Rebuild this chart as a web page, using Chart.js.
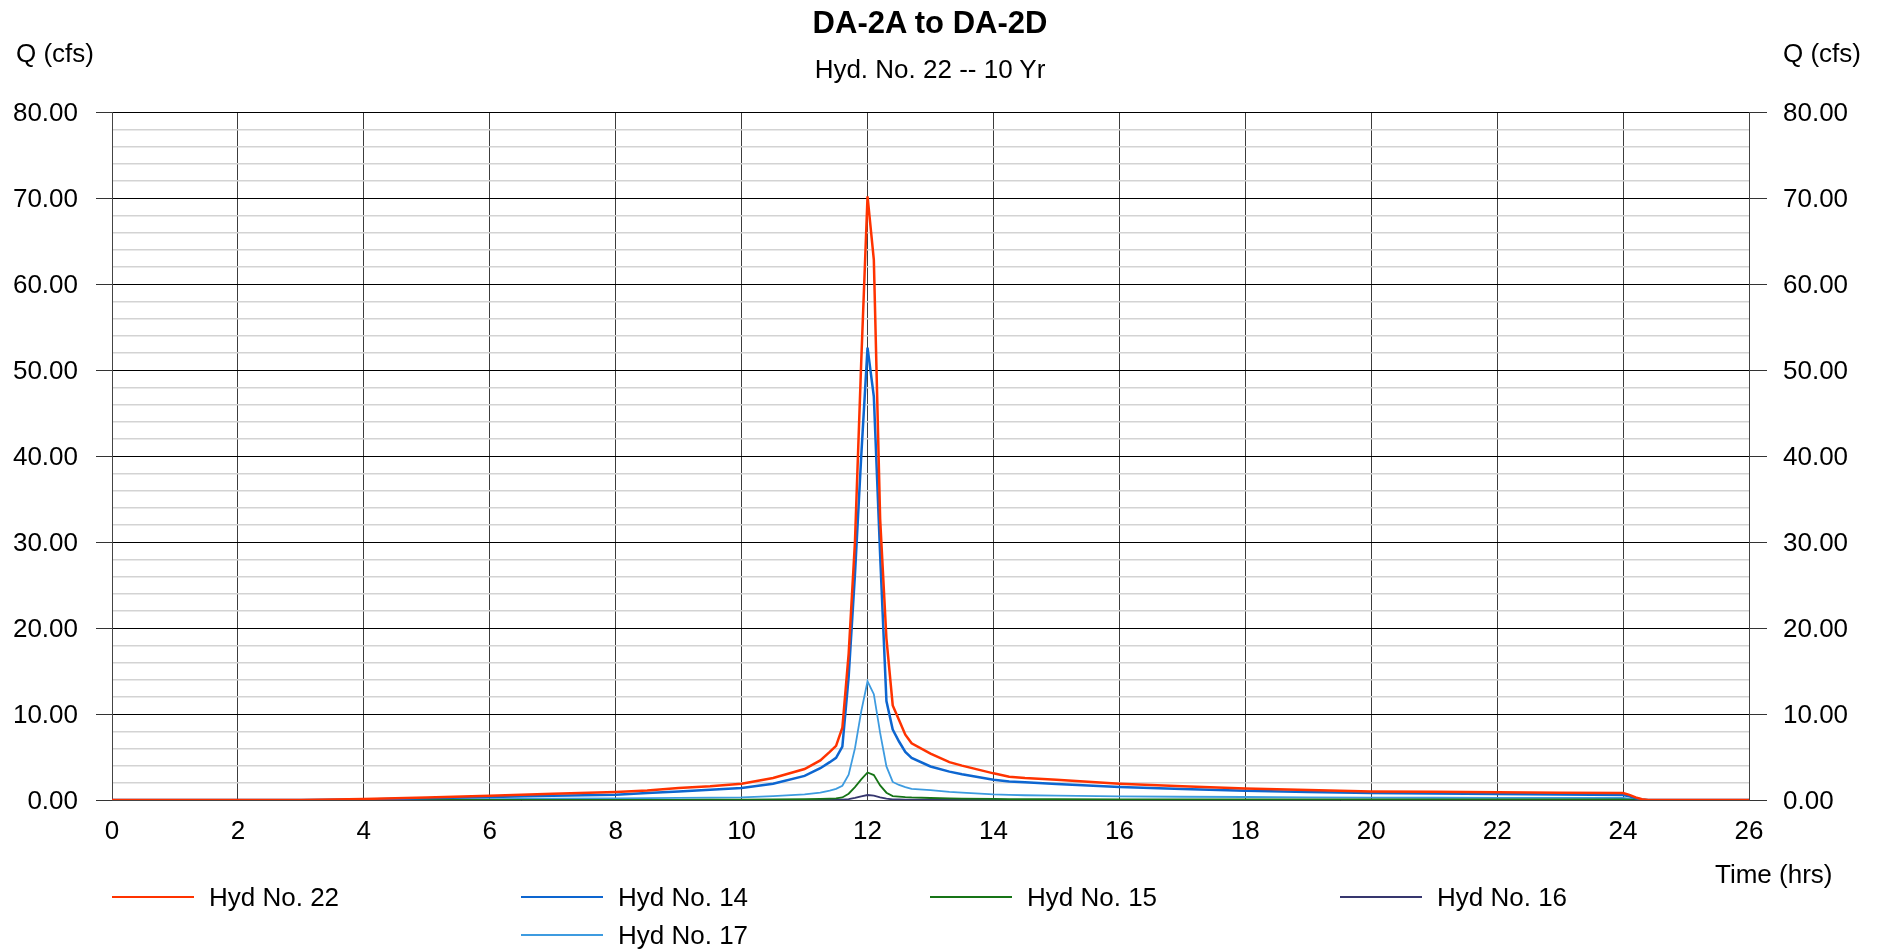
<!DOCTYPE html>
<html>
<head>
<meta charset="utf-8">
<title>DA-2A to DA-2D</title>
<script src="https://cdn.jsdelivr.net/npm/chart.js@4.4.1/dist/chart.umd.min.js"></script>
<style>
  body { margin: 0; background: #fff; }
  #wrap { position: relative; width: 1885px; height: 950px; font-family: "Liberation Sans", Arial, sans-serif; color: #000; }
  #chart { position: absolute; left: 0; top: 0; }
  .txt { position: absolute; line-height: 1; white-space: nowrap; font-size: 26px; }
  .center { transform: translateX(-50%); }
  .leg-line { position: absolute; width: 82px; height: 2px; }
</style>
</head>
<body>
<div id="wrap">
  <canvas id="chart" width="1885" height="950"></canvas>
  <div class="txt center" style="left:930px; top:7px; font-size:31px; font-weight:bold;">DA-2A to DA-2D</div>
  <div class="txt center" style="left:930px; top:56px;">Hyd. No. 22 -- 10 Yr</div>
  <div class="txt" style="left:16px; top:40px;">Q (cfs)</div>
  <div class="txt" style="left:1783px; top:40px;">Q (cfs)</div>
  <div class="txt" style="left:1715px; top:861px;">Time (hrs)</div>
  <div id="legend"></div>
</div>
<script>
//********************* data *********************
// time (hrs) shared by every hydrograph
const times = [0, 1, 2, 3, 3.5, 4, 5, 6, 7, 8, 8.5, 9, 9.5, 10, 10.5, 11, 11.25, 11.4, 11.5,
  11.6, 11.7, 11.8, 11.9, 12, 12.1, 12.2, 12.3, 12.4, 12.5, 12.6, 12.7, 13, 13.3, 13.5, 14, 14.25, 14.5, 15,
  16, 17, 18, 19, 20, 21, 22, 23, 24, 24.1, 24.2, 24.3, 24.4, 26];
// Q (cfs) for each hydrograph
const hyd22 = [0, 0, 0, 0, 0.05, 0.12, 0.3, 0.5, 0.72, 0.93, 1.1, 1.4, 1.6, 1.9, 2.55, 3.6, 4.6, 5.6, 6.3,
  8.4, 17.0, 30.0, 51.0, 70.2, 62.8, 32.7, 18.8, 11.0, 9.3, 7.6, 6.6, 5.4, 4.4, 4.0, 3.1, 2.7, 2.55, 2.35,
  1.9, 1.6, 1.35, 1.16, 1.0, 0.95, 0.9, 0.85, 0.81, 0.6, 0.3, 0.08, 0, 0];
const hyd14 = [0, 0, 0, 0, 0.02, 0.05, 0.2, 0.35, 0.5, 0.62, 0.8, 1.0, 1.2, 1.4, 1.9, 2.8, 3.7, 4.4, 4.9,
  6.2, 14.3, 26.2, 40.0, 52.6, 46.9, 28.5, 11.5, 8.2, 6.8, 5.6, 4.9, 3.9, 3.3, 3.0, 2.35, 2.15, 2.05, 1.86,
  1.51, 1.28, 1.08, 0.93, 0.81, 0.75, 0.7, 0.64, 0.58, 0.42, 0.2, 0.05, 0, 0];
const hyd15 = [0, 0, 0, 0, 0, 0, 0, 0, 0, 0, 0.01, 0.02, 0.03, 0.04, 0.06, 0.1, 0.13, 0.17, 0.2,
  0.3, 0.73, 1.5, 2.4, 3.2, 2.9, 1.7, 0.85, 0.46, 0.4, 0.34, 0.3, 0.23, 0.18, 0.16, 0.12, 0.11, 0.11, 0.1,
  0.08, 0.08, 0.07, 0.07, 0.07, 0.07, 0.06, 0.06, 0.06, 0.04, 0.02, 0.01, 0, 0];
const hyd16 = [0, 0, 0, 0, 0, 0, 0, 0, 0, 0, 0, 0, 0, 0, 0.01, 0.01, 0.02, 0.02, 0.03,
  0.05, 0.1, 0.25, 0.42, 0.58, 0.5, 0.3, 0.15, 0.07, 0.06, 0.05, 0.05, 0.04, 0.03, 0.03, 0.03, 0.02, 0.02, 0.02,
  0.02, 0.02, 0.02, 0.02, 0.02, 0.02, 0.02, 0.02, 0.02, 0.01, 0.01, 0, 0, 0];
const hyd17 = [0, 0, 0, 0, 0, 0, 0.05, 0.1, 0.15, 0.2, 0.22, 0.25, 0.28, 0.3, 0.45, 0.65, 0.85, 1.1, 1.3,
  1.66, 2.94, 6.0, 10.3, 13.8, 12.3, 7.8, 3.9, 2.1, 1.75, 1.5, 1.3, 1.15, 0.95, 0.85, 0.65, 0.6, 0.55, 0.5,
  0.42, 0.38, 0.35, 0.3, 0.27, 0.26, 0.25, 0.24, 0.23, 0.15, 0.07, 0.02, 0, 0];

const seriesNames = ['Hyd No. 22', 'Hyd No. 14', 'Hyd No. 15', 'Hyd No. 16', 'Hyd No. 17'];
const seriesValues = [hyd22, hyd14, hyd15, hyd16, hyd17];
const seriesColors = ['#ff3300', '#0d66d0', '#167416', '#36366e', '#3d9be0'];
const seriesWidths = [2.5, 2.5, 1.8, 1.8, 1.8];

// axis ranges
const timeMin = 0, timeMax = 26, timeStep = 2;
const qMin = 0, qMax = 80, qMinorStep = 2, qMajorStep = 10;

//********************* helpers *********************
const FONT = '"Liberation Sans", Arial, sans-serif';
const isMajor = (ctx) => ctx.tick && ctx.tick.value % qMajorStep === 0;
const qLabel = (value) => (value % qMajorStep === 0 ? value.toFixed(2) : '');

const makeDataset = (i) => ({
  label: seriesNames[i],
  data: times.map((t, k) => ({ x: t, y: seriesValues[i][k] })),
  borderColor: seriesColors[i],
  backgroundColor: seriesColors[i],
  borderWidth: seriesWidths[i],
  pointRadius: 0,
  tension: 0,
  fill: false
});

// legend laid out as in the picture: 4 columns, 5th item under the 2nd
const legendSpots = [[112, 897], [521, 897], [930, 897], [1340, 897], [521, 935]];
const printLegend = () => {
  const legend = document.getElementById('legend');
  seriesNames.forEach((name, i) => {
    const [x, y] = legendSpots[i];
    legend.insertAdjacentHTML('beforeend',
      `<div class="leg-line" style="left:${x}px; top:${y - 1}px; background:${seriesColors[i]};"></div>
       <div class="txt" style="left:${x + 97}px; top:${y - 13}px;">${name}</div>`);
  });
};

//********************* chart *********************
new Chart(document.getElementById('chart'), {
  type: 'line',
  data: { datasets: seriesNames.map((n, i) => makeDataset(i)) },
  options: {
    responsive: false,
    animation: false,
    devicePixelRatio: 1,
    layout: { padding: { top: 112, bottom: 100, left: 0, right: 0 } },
    plugins: { legend: { display: false }, title: { display: false }, tooltip: { enabled: false } },
    scales: {
      x: {
        type: 'linear',
        min: timeMin,
        max: timeMax,
        afterFit: (scale) => { scale.height = 50; },
        ticks: { stepSize: timeStep, color: '#000', padding: 16, font: { family: FONT, size: 26 } },
        grid: { color: '#3c3c3c', lineWidth: 1, drawTicks: false },
        border: { color: '#444' }
      },
      y: {
        position: 'left',
        min: qMin,
        max: qMax,
        afterFit: (scale) => { scale.width = 112; },
        ticks: { stepSize: qMinorStep, autoSkip: false, callback: qLabel, color: '#000', padding: 18, labelOffset: 2, font: { family: FONT, size: 26 } },
        grid: {
          color: (ctx) => (isMajor(ctx) ? '#000' : '#d3d3d3'),
          tickColor: (ctx) => (isMajor(ctx) ? '#333' : 'rgba(0,0,0,0)'),
          tickLength: 16,
          lineWidth: (ctx) => (isMajor(ctx) ? 1 : 1.4)
        },
        border: { color: '#444' }
      },
      y2: {
        position: 'right',
        min: qMin,
        max: qMax,
        afterFit: (scale) => { scale.width = 136; },
        ticks: { stepSize: qMinorStep, autoSkip: false, callback: qLabel, color: '#000', padding: 16, labelOffset: 2, font: { family: FONT, size: 26 } },
        grid: {
          drawOnChartArea: false,
          tickColor: (ctx) => (isMajor(ctx) ? '#333' : 'rgba(0,0,0,0)'),
          tickLength: 18
        },
        border: { color: '#444' }
      }
    }
  }
});

printLegend();
</script>
</body>
</html>
